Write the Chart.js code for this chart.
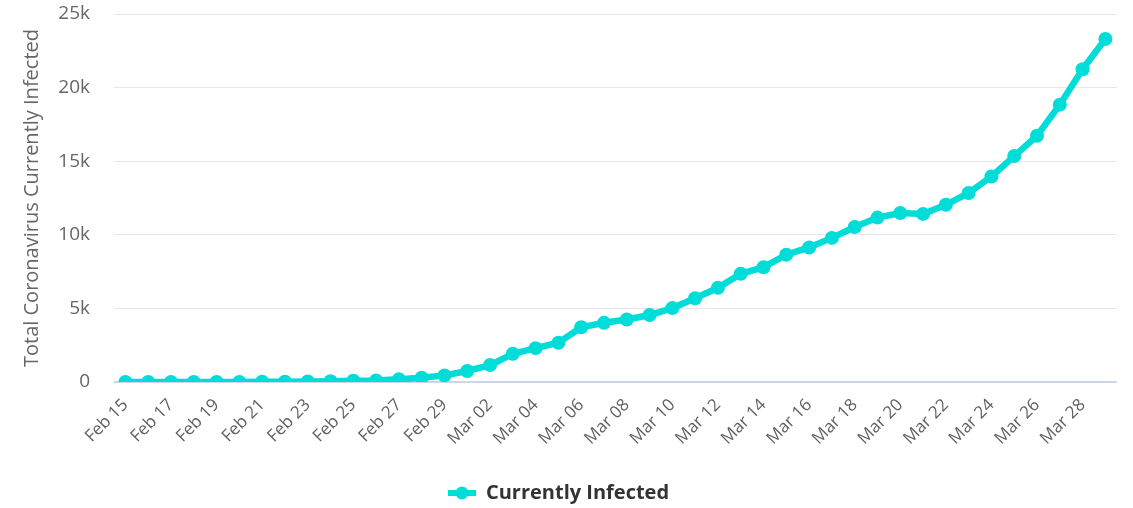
<!DOCTYPE html>
<html>
<head>
<meta charset="utf-8">
<script src="https://cdn.jsdelivr.net/npm/chart.js@4"></script>
<style>
  html, body { margin: 0; padding: 0; background: #fff; }
  #wrap { width: 1133px; height: 508px; }
</style>
</head>
<body>
<div id="wrap"><canvas id="chart" width="1133" height="508"></canvas></div>
<script>
// dates on the x axis (one point per day)
const days = [
  'Feb 15', 'Feb 16', 'Feb 17', 'Feb 18', 'Feb 19', 'Feb 20', 'Feb 21', 'Feb 22',
  'Feb 23', 'Feb 24', 'Feb 25', 'Feb 26', 'Feb 27', 'Feb 28', 'Feb 29',
  'Mar 01', 'Mar 02', 'Mar 03', 'Mar 04', 'Mar 05', 'Mar 06', 'Mar 07', 'Mar 08',
  'Mar 09', 'Mar 10', 'Mar 11', 'Mar 12', 'Mar 13', 'Mar 14', 'Mar 15', 'Mar 16',
  'Mar 17', 'Mar 18', 'Mar 19', 'Mar 20', 'Mar 21', 'Mar 22', 'Mar 23', 'Mar 24',
  'Mar 25', 'Mar 26', 'Mar 27', 'Mar 28', 'Mar 29'
];

// currently infected
const infected = [
  0, 0, 0, 0, 2, 5, 15, 25,
  40, 50, 80, 110, 180, 290, 450,
  750, 1150, 1920, 2300, 2670, 3720, 4020, 4250,
  4550, 5020, 5690, 6400, 7350, 7800, 8650, 9140,
  9790, 10530, 11170, 11480, 11420, 12040, 12840, 13960,
  15350, 16730, 18840, 21250, 23300
];

const yTicks = [0, 5000, 10000, 15000, 20000, 25000];

const lineColor = '#00dcd8';

// legend symbol: short line with a dot, like the original
function legendSymbol() {
  const c = document.createElement('canvas');
  c.width = 28;
  c.height = 14;
  const g = c.getContext('2d');
  g.strokeStyle = lineColor;
  g.lineWidth = 6;
  g.beginPath();
  g.moveTo(0, 7);
  g.lineTo(28, 7);
  g.stroke();
  g.fillStyle = lineColor;
  g.beginPath();
  g.arc(14, 7, 6.5, 0, Math.PI * 2);
  g.fill();
  return c;
}

Chart.defaults.font.family = '"Open Sans", sans-serif';
Chart.defaults.color = '#666666';

new Chart(document.getElementById('chart'), {
  type: 'line',
  data: {
    labels: days,
    datasets: [{
      label: 'Currently Infected',
      data: infected,
      borderColor: lineColor,
      backgroundColor: lineColor,
      borderWidth: 6.5,
      pointRadius: 7,
      pointHoverRadius: 8,
      pointBorderWidth: 0,
      tension: 0
    }]
  },
  options: {
    responsive: false,
    animation: false,
    layout: { padding: { top: 0, right: 16, left: 0, bottom: -5 } },
    plugins: {
      tooltip: { enabled: false },
      legend: {
        position: 'bottom',
        labels: {
          usePointStyle: true,
          pointStyle: legendSymbol(),
          pointStyleWidth: 28,
          color: '#333333',
          font: { size: 20, weight: 'bold' },
          padding: 0
        }
      }
    },
    scales: {
      x: {
        offset: true,
        grid: { display: false, drawTicks: false },
        border: { display: false },
        ticks: {
          autoSkip: false,
          minRotation: 45,
          maxRotation: 45,
          padding: 13,
          color: '#606060',
          font: { size: 17 },
          callback: function(value, index) {
            return index % 2 === 0 ? days[index] : '';
          }
        },
        afterFit: function(axis) { axis.height = 101; }
      },
      y: {
        min: 0,
        max: 25000,
        afterBuildTicks: function(axis) {
          axis.ticks = yTicks.map(v => ({ value: v }));
        },
        grid: {
          drawTicks: false,
          color: function(ctx) { return ctx.tick && ctx.tick.value === 0 ? '#ccd6eb' : '#e6e6e6'; },
          lineWidth: function(ctx) { return ctx.tick && ctx.tick.value === 0 ? 2 : 1; }
        },
        border: { display: false },
        ticks: {
          padding: 24,
          font: { size: 19 },
          callback: function(value) { return value === 0 ? '0' : (value / 1000) + 'k'; }
        },
        title: {
          display: true,
          text: 'Total Coronavirus Currently Infected',
          font: { size: 20 },
          padding: { top: 20, bottom: 0 }
        },
        afterFit: function(axis) {
          axis.width = 114;
          // tick padding would otherwise push the plot down
          axis.paddingTop = 14;
          axis.paddingBottom = 12;
        }
      }
    }
  }
});
</script>
</body>
</html>
